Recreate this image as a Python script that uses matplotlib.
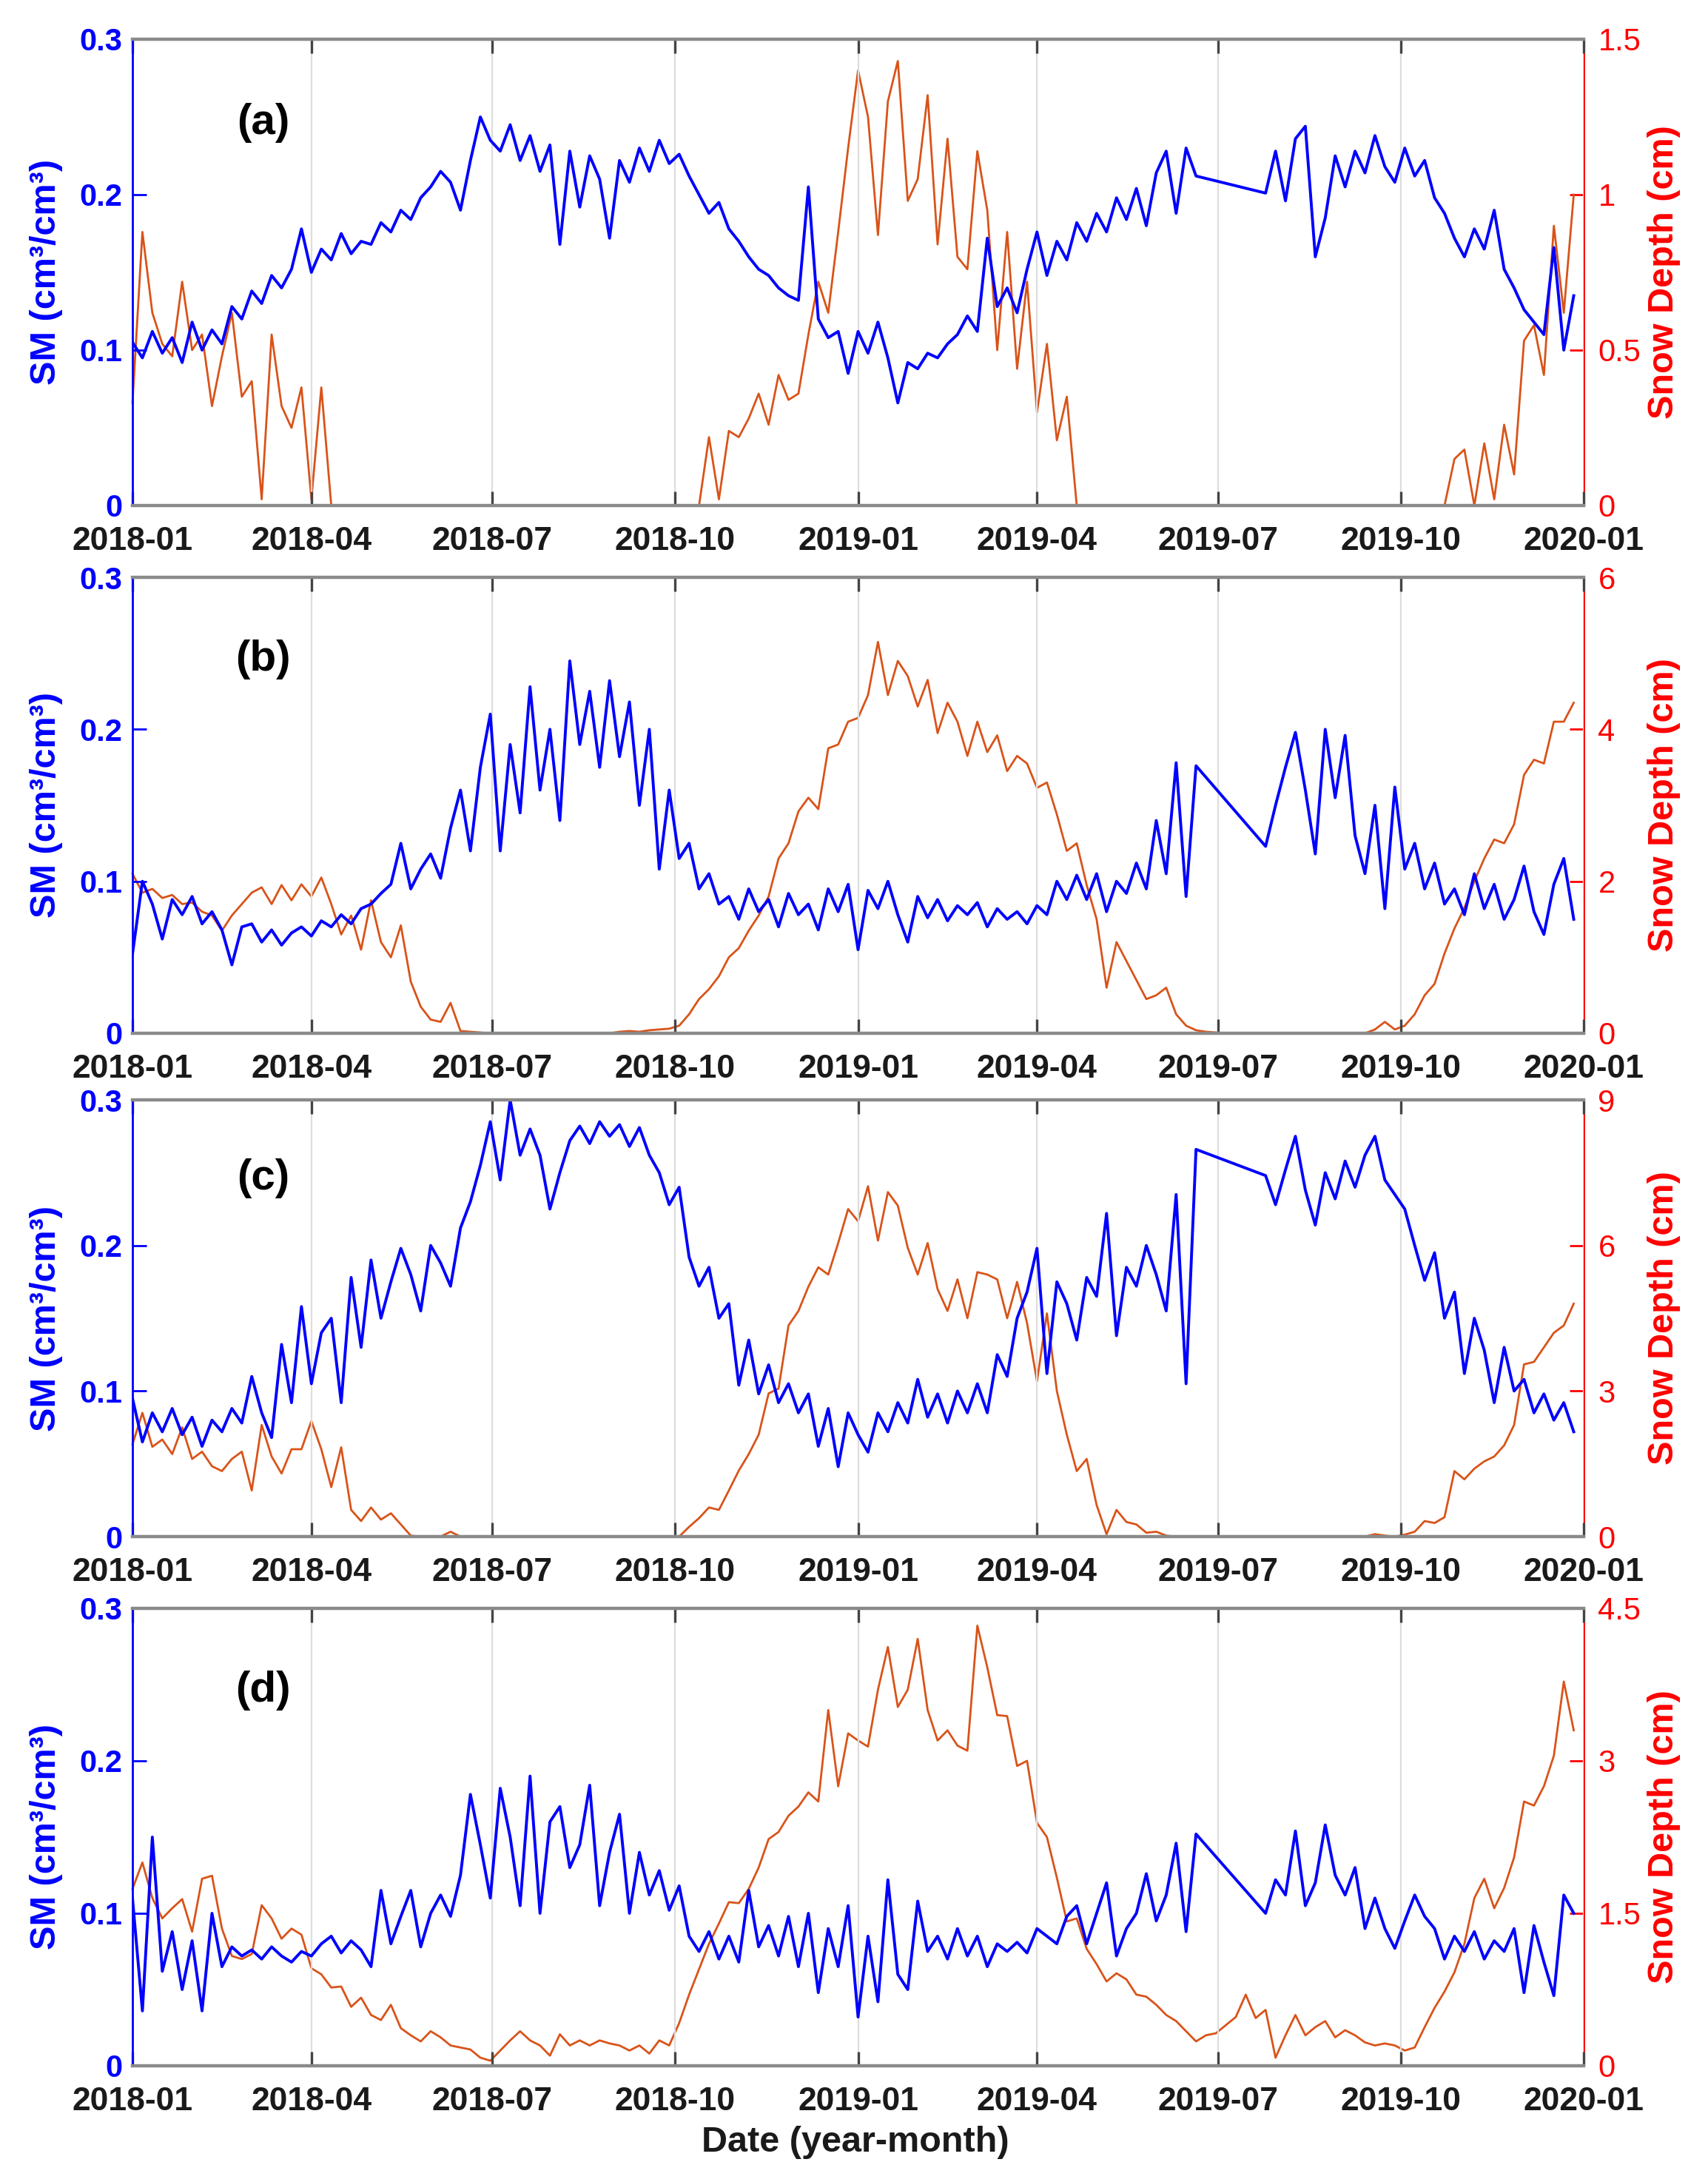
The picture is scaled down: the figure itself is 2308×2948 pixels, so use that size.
import matplotlib
matplotlib.use('Agg')
import matplotlib.pyplot as plt
import numpy as np
import pandas as pd

plt.rcParams['font.family'] = ['Liberation Sans', 'DejaVu Sans']

nan = np.nan

# 5-day sampling, 2018-01-01 .. 2019-12-27 (146 points); nan = no SM data (gap Jun-Jul 2019)
dates = pd.date_range('2018-01-01', periods=146, freq='5D')

# ---- (a) ----
sm_a = [0.105, 0.095, 0.112, 0.098, 0.108, 0.092, 0.118, 0.100, 0.113, 0.104, 0.128, 0.120,
        0.138, 0.130, 0.148, 0.140, 0.152, 0.178, 0.150, 0.165, 0.158, 0.175, 0.162, 0.170,
        0.168, 0.182, 0.176, 0.190, 0.184, 0.198, 0.205, 0.215, 0.208, 0.190, 0.222, 0.250,
        0.235, 0.228, 0.245, 0.222, 0.238, 0.215, 0.232, 0.168, 0.228, 0.192, 0.225, 0.210,
        0.172, 0.222, 0.208, 0.230, 0.215, 0.235, 0.220, 0.226, 0.212, 0.200, 0.188, 0.195,
        0.178, 0.170, 0.160, 0.152, 0.148, 0.140, 0.135, 0.132, 0.205, 0.120, 0.108, 0.112,
        0.085, 0.112, 0.098, 0.118, 0.095, 0.066, 0.092, 0.088, 0.098, 0.095, 0.104, 0.110,
        0.122, 0.112, 0.172, 0.128, 0.140, 0.124, 0.152, 0.176, 0.148, 0.170, 0.158, 0.182,
        0.170, 0.188, 0.176, 0.198, 0.184, 0.204, 0.180, 0.214, 0.228, 0.188, 0.230, 0.212,
        nan, nan, nan, nan, nan, nan, 0.201, 0.228, 0.196, 0.236, 0.244, 0.160,
        0.185, 0.225, 0.205, 0.228, 0.214, 0.238, 0.218, 0.208, 0.230, 0.212, 0.222, 0.198,
        0.188, 0.172, 0.160, 0.178, 0.165, 0.190, 0.152, 0.140, 0.126, 0.118, 0.110, 0.166,
        0.100, 0.135]
sd_a = [0.33, 0.88, 0.62, 0.52, 0.48, 0.72, 0.50, 0.55, 0.32, 0.48, 0.62, 0.35,
        0.40, 0.02, 0.55, 0.32, 0.25, 0.38, 0.02, 0.38, 0.00, 0.00, 0.00, 0.00,
        0.00, 0.00, 0.00, 0.00, 0.00, 0.00, 0.00, 0.00, 0.00, 0.00, 0.00, 0.00,
        0.00, 0.00, 0.00, 0.00, 0.00, 0.00, 0.00, 0.00, 0.00, 0.00, 0.00, 0.00,
        0.00, 0.00, 0.00, 0.00, 0.00, 0.00, 0.00, 0.00, 0.00, 0.00, 0.22, 0.02,
        0.24, 0.22, 0.28, 0.36, 0.26, 0.42, 0.34, 0.36, 0.55, 0.72, 0.62, 0.88,
        1.15, 1.40, 1.25, 0.87, 1.30, 1.43, 0.98, 1.05, 1.32, 0.84, 1.18, 0.80,
        0.76, 1.14, 0.95, 0.50, 0.88, 0.44, 0.72, 0.30, 0.52, 0.21, 0.35, 0.00,
        0.00, 0.00, 0.00, 0.00, 0.00, 0.00, 0.00, 0.00, 0.00, 0.00, 0.00, 0.00,
        0.00, 0.00, 0.00, 0.00, 0.00, 0.00, 0.00, 0.00, 0.00, 0.00, 0.00, 0.00,
        0.00, 0.00, 0.00, 0.00, 0.00, 0.00, 0.00, 0.00, 0.00, 0.00, 0.00, 0.00,
        0.00, 0.15, 0.18, 0.00, 0.20, 0.02, 0.26, 0.10, 0.53, 0.58, 0.42, 0.90,
        0.62, 1.00]

# ---- (b) ----
sm_b = [0.052, 0.100, 0.085, 0.062, 0.088, 0.078, 0.090, 0.072, 0.080, 0.068, 0.045, 0.070,
        0.072, 0.060, 0.068, 0.058, 0.066, 0.070, 0.064, 0.074, 0.070, 0.078, 0.072, 0.082,
        0.085, 0.092, 0.098, 0.125, 0.095, 0.108, 0.118, 0.102, 0.135, 0.160, 0.120, 0.175,
        0.210, 0.120, 0.190, 0.145, 0.228, 0.160, 0.200, 0.140, 0.245, 0.190, 0.225, 0.175,
        0.232, 0.182, 0.218, 0.150, 0.200, 0.108, 0.160, 0.115, 0.125, 0.095, 0.105, 0.085,
        0.090, 0.075, 0.095, 0.080, 0.088, 0.070, 0.092, 0.078, 0.085, 0.068, 0.095, 0.080,
        0.098, 0.055, 0.094, 0.082, 0.100, 0.078, 0.060, 0.090, 0.076, 0.088, 0.074, 0.084,
        0.078, 0.086, 0.070, 0.082, 0.075, 0.080, 0.072, 0.084, 0.078, 0.100, 0.088, 0.104,
        0.088, 0.105, 0.080, 0.100, 0.092, 0.112, 0.095, 0.140, 0.105, 0.178, 0.090, 0.176,
        nan, nan, nan, nan, nan, nan, 0.123, 0.150, 0.175, 0.198, 0.160, 0.118,
        0.200, 0.155, 0.196, 0.130, 0.105, 0.150, 0.082, 0.162, 0.108, 0.125, 0.095, 0.112,
        0.085, 0.095, 0.078, 0.105, 0.082, 0.098, 0.075, 0.088, 0.110, 0.080, 0.065, 0.098,
        0.115, 0.075]
sd_b = [2.10, 1.85, 1.90, 1.78, 1.82, 1.70, 1.72, 1.60, 1.55, 1.35, 1.55, 1.70,
        1.85, 1.92, 1.70, 1.95, 1.75, 1.96, 1.80, 2.05, 1.70, 1.30, 1.55, 1.10,
        1.75, 1.20, 1.00, 1.42, 0.68, 0.35, 0.18, 0.15, 0.40, 0.03, 0.02, 0.01,
        0.00, 0.00, 0.00, 0.00, 0.00, 0.00, 0.00, 0.00, 0.00, 0.00, 0.00, 0.00,
        0.00, 0.02, 0.03, 0.02, 0.04, 0.05, 0.06, 0.10, 0.25, 0.45, 0.58, 0.75,
        1.00, 1.12, 1.35, 1.55, 1.80, 2.30, 2.50, 2.92, 3.10, 2.95, 3.75, 3.80,
        4.10, 4.15, 4.45, 5.15, 4.45, 4.90, 4.70, 4.30, 4.65, 3.95, 4.35, 4.10,
        3.65, 4.10, 3.70, 3.92, 3.45, 3.65, 3.55, 3.23, 3.30, 2.88, 2.40, 2.50,
        1.95, 1.50, 0.60, 1.20, 0.95, 0.70, 0.45, 0.50, 0.60, 0.25, 0.10, 0.04,
        0.02, 0.01, 0.00, 0.00, 0.00, 0.00, 0.00, 0.00, 0.00, 0.00, 0.00, 0.00,
        0.00, 0.00, 0.00, 0.00, 0.00, 0.05, 0.15, 0.05, 0.10, 0.25, 0.50, 0.65,
        1.05, 1.38, 1.65, 2.00, 2.30, 2.55, 2.50, 2.75, 3.40, 3.60, 3.55, 4.10,
        4.10, 4.35]

# ---- (c) ----
sm_c = [0.095, 0.065, 0.085, 0.072, 0.088, 0.070, 0.082, 0.062, 0.080, 0.072, 0.088, 0.078,
        0.110, 0.085, 0.068, 0.132, 0.092, 0.158, 0.105, 0.140, 0.150, 0.092, 0.178, 0.130,
        0.190, 0.150, 0.175, 0.198, 0.180, 0.155, 0.200, 0.188, 0.172, 0.212, 0.230, 0.255,
        0.285, 0.245, 0.300, 0.262, 0.280, 0.262, 0.225, 0.250, 0.272, 0.282, 0.270, 0.285,
        0.275, 0.283, 0.268, 0.281, 0.262, 0.250, 0.228, 0.240, 0.192, 0.172, 0.185, 0.150,
        0.160, 0.104, 0.135, 0.098, 0.118, 0.092, 0.105, 0.085, 0.098, 0.062, 0.088, 0.048,
        0.085, 0.070, 0.058, 0.085, 0.072, 0.092, 0.078, 0.108, 0.082, 0.098, 0.078, 0.100,
        0.085, 0.105, 0.085, 0.125, 0.110, 0.150, 0.168, 0.198, 0.112, 0.175, 0.160, 0.135,
        0.178, 0.165, 0.222, 0.138, 0.185, 0.172, 0.200, 0.180, 0.155, 0.235, 0.105, 0.266,
        nan, nan, nan, nan, nan, nan, 0.248, 0.228, 0.252, 0.275, 0.238, 0.214,
        0.250, 0.232, 0.258, 0.240, 0.262, 0.275, 0.245, 0.235, 0.225, 0.200, 0.176, 0.195,
        0.150, 0.168, 0.112, 0.150, 0.128, 0.092, 0.130, 0.100, 0.108, 0.085, 0.098, 0.080,
        0.092, 0.072]
sd_c = [1.90, 2.55, 1.85, 2.00, 1.70, 2.25, 1.60, 1.75, 1.45, 1.35, 1.60, 1.75,
        0.95, 2.30, 1.65, 1.30, 1.80, 1.80, 2.38, 1.80, 1.02, 1.84, 0.55, 0.32,
        0.60, 0.35, 0.48, 0.25, 0.02, 0.00, 0.00, 0.00, 0.10, 0.00, 0.00, 0.00,
        0.00, 0.00, 0.00, 0.00, 0.00, 0.00, 0.00, 0.00, 0.00, 0.00, 0.00, 0.00,
        0.00, 0.00, 0.00, 0.00, 0.00, 0.00, 0.00, 0.00, 0.20, 0.38, 0.60, 0.55,
        0.95, 1.36, 1.70, 2.10, 2.95, 3.05, 4.35, 4.65, 5.15, 5.55, 5.40, 6.05,
        6.75, 6.50, 7.22, 6.10, 7.10, 6.82, 5.95, 5.40, 6.05, 5.10, 4.65, 5.30,
        4.50, 5.45, 5.40, 5.30, 4.50, 5.25, 4.40, 3.20, 4.60, 3.00, 2.10, 1.35,
        1.60, 0.65, 0.05, 0.55, 0.30, 0.25, 0.08, 0.10, 0.02, 0.00, 0.00, 0.00,
        0.00, 0.00, 0.00, 0.00, 0.00, 0.00, 0.00, 0.00, 0.00, 0.00, 0.00, 0.00,
        0.00, 0.00, 0.00, 0.00, 0.00, 0.05, 0.02, 0.00, 0.04, 0.10, 0.32, 0.28,
        0.40, 1.35, 1.18, 1.40, 1.55, 1.65, 1.88, 2.30, 3.55, 3.60, 3.90, 4.20,
        4.35, 4.80]

# ---- (d) ----
sm_d = [0.110, 0.036, 0.150, 0.062, 0.088, 0.050, 0.082, 0.036, 0.100, 0.065, 0.078, 0.072,
        0.076, 0.070, 0.078, 0.072, 0.068, 0.075, 0.072, 0.080, 0.085, 0.074, 0.082, 0.076,
        0.065, 0.115, 0.080, 0.098, 0.115, 0.078, 0.100, 0.112, 0.098, 0.125, 0.178, 0.145,
        0.110, 0.182, 0.150, 0.105, 0.190, 0.100, 0.160, 0.170, 0.130, 0.145, 0.184, 0.105,
        0.140, 0.165, 0.100, 0.140, 0.112, 0.128, 0.102, 0.118, 0.085, 0.075, 0.088, 0.070,
        0.085, 0.068, 0.115, 0.078, 0.092, 0.072, 0.098, 0.065, 0.100, 0.048, 0.090, 0.065,
        0.105, 0.032, 0.085, 0.042, 0.122, 0.060, 0.050, 0.108, 0.075, 0.085, 0.070, 0.090,
        0.072, 0.085, 0.065, 0.080, 0.075, 0.081, 0.074, 0.090, 0.085, 0.080, 0.098, 0.105,
        0.080, 0.100, 0.120, 0.072, 0.090, 0.100, 0.126, 0.095, 0.112, 0.146, 0.088, 0.152,
        nan, nan, nan, nan, nan, nan, 0.100, 0.122, 0.112, 0.154, 0.105, 0.120,
        0.158, 0.125, 0.112, 0.130, 0.090, 0.110, 0.090, 0.077, 0.095, 0.112, 0.098, 0.090,
        0.070, 0.085, 0.075, 0.088, 0.070, 0.082, 0.075, 0.090, 0.048, 0.092, 0.068, 0.046,
        0.112, 0.100]
sd_d = [1.74, 2.00, 1.65, 1.45, 1.55, 1.64, 1.32, 1.84, 1.87, 1.35, 1.08, 1.05,
        1.10, 1.58, 1.45, 1.25, 1.35, 1.29, 0.96, 0.90, 0.77, 0.78, 0.58, 0.67,
        0.50, 0.45, 0.60, 0.37, 0.30, 0.24, 0.34, 0.28, 0.20, 0.18, 0.16, 0.08,
        0.05, 0.15, 0.25, 0.34, 0.25, 0.20, 0.10, 0.31, 0.20, 0.25, 0.20, 0.25,
        0.22, 0.20, 0.15, 0.20, 0.12, 0.25, 0.20, 0.42, 0.70, 0.95, 1.20, 1.40,
        1.61, 1.60, 1.74, 1.95, 2.23, 2.30, 2.46, 2.55, 2.69, 2.60, 3.50, 2.75,
        3.27, 3.20, 3.14, 3.70, 4.12, 3.53, 3.70, 4.20, 3.50, 3.20, 3.30, 3.15,
        3.10, 4.33, 3.92, 3.45, 3.44, 2.95, 3.00, 2.39, 2.25, 1.85, 1.42, 1.45,
        1.15, 1.00, 0.83, 0.91, 0.85, 0.70, 0.68, 0.60, 0.50, 0.44, 0.34, 0.24,
        0.30, 0.32, 0.40, 0.48, 0.70, 0.47, 0.55, 0.08, 0.30, 0.50, 0.30, 0.38,
        0.44, 0.28, 0.35, 0.30, 0.23, 0.20, 0.22, 0.20, 0.15, 0.18, 0.38, 0.57,
        0.73, 0.92, 1.20, 1.65, 1.84, 1.55, 1.75, 2.05, 2.60, 2.56, 2.75, 3.05,
        3.78, 3.30]

sm_ticks = [0, 0.1, 0.2, 0.3]
sm_ticklabels = ['0', '0.1', '0.2', '0.3']
panel_letters = ['(a)', '(b)', '(c)', '(d)']
sd_ticks = [[0, 0.5, 1, 1.5], [0, 2, 4, 6], [0, 3, 6, 9], [0, 1.5, 3, 4.5]]
x_ticks = pd.date_range('2018-01-01', '2020-01-01', freq='QS')
x_ticklabels = [d.strftime('%Y-%m') for d in x_ticks]

sm_all = [sm_a, sm_b, sm_c, sm_d]
sd_all = [sd_a, sd_b, sd_c, sd_d]

BLUE = '#0000FF'
RED = '#FF0000'
ORANGE = '#D95319'

# figure 2308 x 2948 px
W, H = 2308, 2948
fig = plt.figure(figsize=(W / 200, H / 200), dpi=200)
left_px, right_px = 179, 2140
rows_px = [(53, 683), (780, 1396), (1486, 2076), (2173, 2791)]

for k in range(4):
    top, bot = rows_px[k]
    ax = fig.add_axes([left_px / W, 1 - bot / H, (right_px - left_px) / W, (bot - top) / H])
    ax2 = ax.twinx()
    ax.set_zorder(ax2.get_zorder() + 1)
    ax.patch.set_visible(False)

    sm = np.array(sm_all[k], dtype=float)
    ok = np.isfinite(sm)
    ax2.plot(dates, sd_all[k], color=ORANGE, lw=1.0, clip_on=False)
    ax.plot(dates[ok], sm[ok], color=BLUE, lw=1.4)

    ax.set_xlim(pd.Timestamp('2018-01-01'), pd.Timestamp('2020-01-01'))
    ax.set_ylim(0, 0.3)
    ax2.set_ylim(0, sd_ticks[k][-1])

    ax.set_xticks(x_ticks)
    ax.set_xticklabels(x_ticklabels, fontsize=16, fontweight='bold', color='#1a1a1a')
    ax.tick_params(axis='x', direction='in', length=7, width=1.2, color='#444444',
                   top=True, pad=10)
    ax.grid(axis='x', color='#dddddd', lw=0.8)

    ax.set_yticks(sm_ticks)
    ax.set_yticklabels(sm_ticklabels, fontsize=15, fontweight='bold')
    ax.tick_params(axis='y', direction='in', length=7, width=1.0, colors=BLUE, pad=5)

    ax2.set_yticks(sd_ticks[k])
    ax2.set_yticklabels(['%g' % v for v in sd_ticks[k]], fontsize=15)
    ax2.tick_params(axis='y', direction='in', length=7, width=1.0, colors=RED, pad=7)

    for s in ['top', 'bottom']:
        ax.spines[s].set_color('#8a8a8a')
        ax.spines[s].set_linewidth(1.6)
    ax.spines['left'].set_color(BLUE)
    ax.spines['left'].set_linewidth(1.0)
    ax.spines['right'].set_visible(False)
    for s in ['top', 'bottom', 'left']:
        ax2.spines[s].set_visible(False)
    ax2.spines['right'].set_color(RED)
    ax2.spines['right'].set_linewidth(1.0)

    ax.set_ylabel('SM (cm³/cm³)', color=BLUE, fontsize=17.5, fontweight='bold')
    ax.yaxis.set_label_coords(-0.048, 0.5)
    ax2.set_ylabel('Snow Depth (cm)', color=RED, fontsize=17.5, fontweight='bold')
    ax2.yaxis.set_label_coords(1.044, 0.5)

    ax.text(0.09, 0.82, panel_letters[k], transform=ax.transAxes, fontsize=21,
            fontweight='bold', ha='center', va='center')

fig.text(0.501, 0.018, 'Date (year-month)', fontsize=17.5, fontweight='bold',
         ha='center', va='center', color='#1a1a1a')

fig.savefig('out.png', dpi=200)
